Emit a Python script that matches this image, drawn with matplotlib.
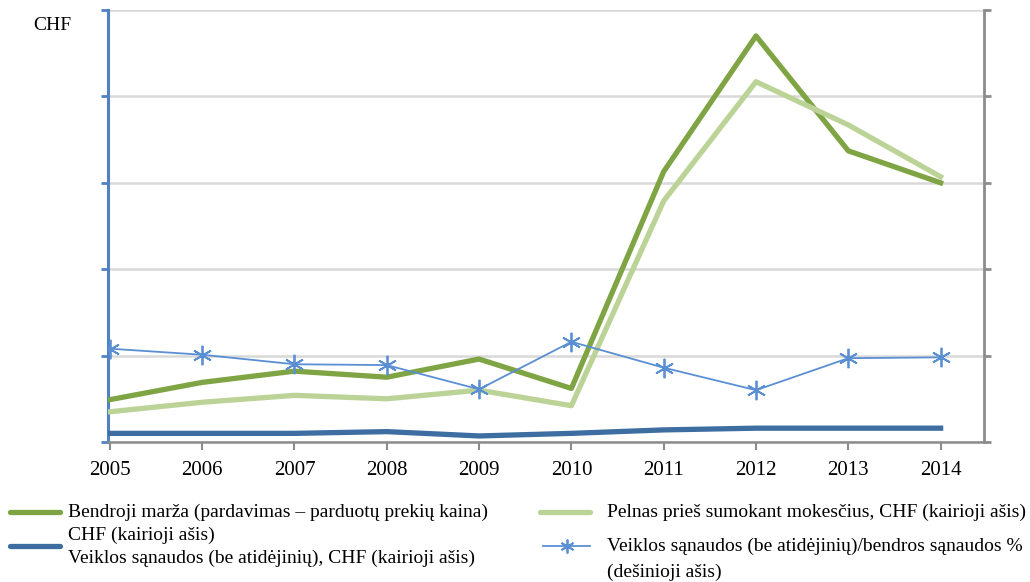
import matplotlib
matplotlib.use("Agg")
import matplotlib.pyplot as plt
from matplotlib.lines import Line2D

plt.rcParams['font.family'] = ['Liberation Serif', 'DejaVu Serif']

years = [2005, 2006, 2007, 2008, 2009, 2010, 2011, 2012, 2013, 2014]
# left axis (CHF), arbitrary units
bendroji = [0.49, 0.69, 0.82, 0.75, 0.96, 0.62, 3.13, 4.70, 3.37, 3.00]
pelnas = [0.35, 0.46, 0.54, 0.50, 0.60, 0.42, 2.79, 4.17, 3.67, 3.07]
veiklos = [0.10, 0.10, 0.10, 0.12, 0.07, 0.10, 0.14, 0.16, 0.16, 0.16]
# right axis (%)
santykis = [10.8, 10.1, 9.0, 8.9, 6.1, 11.6, 8.6, 6.0, 9.7, 9.8]

c_dark = '#7ea444'
c_light = '#bcd398'
c_blue = '#3e6da2'
c_star = '#5b8fd3'
c_axblue = '#4f81c4'
c_grey = '#8c8c8c'

W, H = 1030, 582
fig = plt.figure(figsize=(W / 100, H / 100), dpi=100)
ax = fig.add_axes([108 / W, 1 - 442 / H, (984 - 108) / W, (442 - 10) / H])
ax2 = ax.twinx()

ax.plot(years, bendroji, color=c_dark, lw=3.8, zorder=3)
ax.plot(years, pelnas, color=c_light, lw=3.8, zorder=4)
ax.plot(years, veiklos, color=c_blue, lw=3.8, zorder=3)
ax2.plot(years, santykis, color=c_star, lw=1.3, marker=(6, 2, 0),
         markersize=14, markeredgewidth=1.3, markeredgecolor=c_star)

ax.set_xlim(2004.98, 2014.47)
ax.set_ylim(0, 5)
ax2.set_ylim(0, 50)
ax.set_yticks(range(6))
ax2.set_yticks(range(0, 51, 10))
ax.set_yticklabels([])
ax2.set_yticklabels([])
ax.set_xticks(years)
ax.set_xticklabels([str(y) for y in years], fontsize=15)
ax.grid(axis='y', color='#d9d9d9', lw=1.8)
ax.set_axisbelow(True)

for a in (ax, ax2):
    a.spines['top'].set_visible(False)
ax.spines['right'].set_visible(False)
ax2.spines['left'].set_visible(False)
ax2.spines['bottom'].set_visible(False)
ax.spines['left'].set_color(c_axblue)
ax.spines['left'].set_linewidth(2.2)
ax.spines['bottom'].set_color(c_grey)
ax.spines['bottom'].set_linewidth(1.8)
ax2.spines['right'].set_color(c_grey)
ax2.spines['right'].set_linewidth(2)
ax.tick_params(axis='y', color=c_axblue, length=5, width=2)
ax2.tick_params(axis='y', color=c_grey, length=5, width=2)
ax.tick_params(axis='x', color=c_grey, length=6, width=1.5, pad=8)

fig.text(33 / W, 1 - 26 / H, 'CHF', fontsize=14, va='center', ha='left')


def fx(px):
    return px / W


def fy(py):
    return 1 - py / H


fs = 14
fig.add_artist(Line2D([fx(10), fx(60)], [fy(512), fy(512)], color=c_dark, lw=3.8,
                      solid_capstyle='round', transform=fig.transFigure))
fig.add_artist(Line2D([fx(10), fx(60)], [fy(546), fy(546)], color=c_blue, lw=3.8,
                      solid_capstyle='round', transform=fig.transFigure))
fig.add_artist(Line2D([fx(540), fx(590)], [fy(512), fy(512)], color=c_light, lw=3.8,
                      solid_capstyle='round', transform=fig.transFigure))
fig.add_artist(Line2D([fx(543), fx(590)], [fy(546), fy(546)], color=c_star, lw=1.3,
                      transform=fig.transFigure))
fig.add_artist(Line2D([fx(566.5)], [fy(546)], color=c_star, marker=(6, 2, 0),
                      markersize=10, markeredgewidth=1.3, transform=fig.transFigure))

fig.text(fx(68), fy(512), 'Bendroji marža (pardavimas – parduotų prekių kaina)', fontsize=fs, va='center')
fig.text(fx(68), fy(535), 'CHF (kairioji ašis)', fontsize=fs, va='center')
fig.text(fx(68), fy(558), 'Veiklos sąnaudos (be atidėjinių), CHF (kairioji ašis)', fontsize=fs, va='center')
fig.text(fx(607), fy(512), 'Pelnas prieš sumokant mokesčius, CHF (kairioji ašis)', fontsize=fs, va='center')
fig.text(fx(607), fy(546), 'Veiklos sąnaudos (be atidėjinių)/bendros sąnaudos %', fontsize=fs, va='center')
fig.text(fx(607), fy(572), '(dešinioji ašis)', fontsize=fs, va='center')

fig.savefig('out.png', dpi=100)
